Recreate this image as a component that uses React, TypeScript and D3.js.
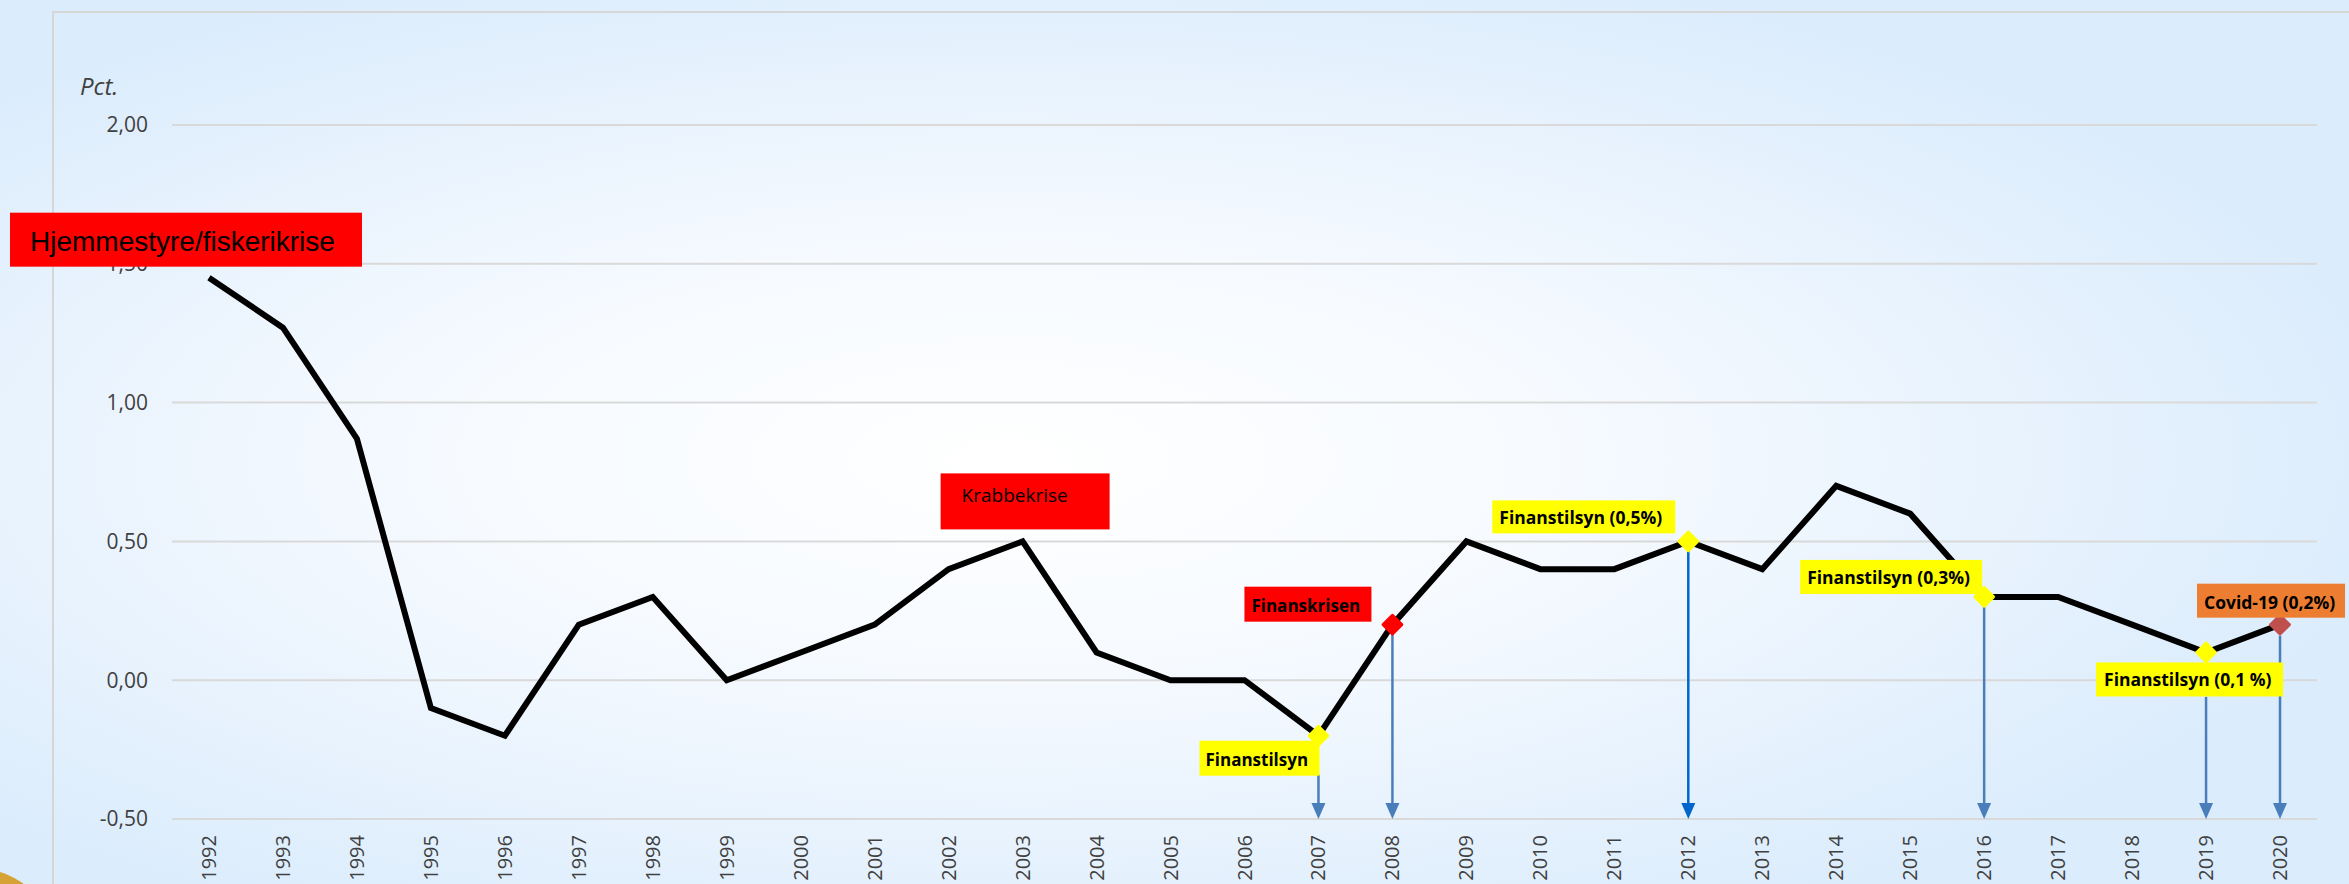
import React from 'react';
import * as d3 from 'd3';

// data
const years = ['1992', '1993', '1994', '1995', '1996', '1997', '1998', '1999', '2000', '2001',
  '2002', '2003', '2004', '2005', '2006', '2007', '2008', '2009', '2010', '2011',
  '2012', '2013', '2014', '2015', '2016', '2017', '2018', '2019', '2020'];
const values = [1.45, 1.27, 0.87, -0.1, -0.2, 0.2, 0.3, 0, 0.1, 0.2,
  0.4, 0.5, 0.1, 0, 0, -0.2, 0.2, 0.5, 0.4, 0.4,
  0.5, 0.4, 0.7, 0.6, 0.3, 0.3, 0.2, 0.1, 0.2];
const yTicks = [-0.5, 0, 0.5, 1, 1.5, 2];

const markerYears = ['2007', '2008', '2012', '2016', '2019', '2020'];

const labelTexts = ['Hjemmestyre/fiskerikrise', 'Krabbekrise', 'Finanskrisen', 'Finanstilsyn',
  'Finanstilsyn (0,5%)', 'Finanstilsyn (0,3%)', 'Finanstilsyn (0,1 %)', 'Covid-19 (0,2%)'];
const labelYears = ['1992', '2003', '2008', '2007', '2012', '2016', '2019', '2020'];

const arrowYears = ['2007', '2008', '2012', '2016', '2019', '2020'];
const arrowFrom = [-0.34, 0.2, 0.5, 0.3, -0.06, 0.16];
const arrowTo = -0.5;

// styling / layout
const W = 2349;
const H = 884;
const PLOT = { left: 172, right: 2317, top: 125, bottom: 819 };
const FONT = "'Open Sans', 'Noto Sans', sans-serif";
const TEXT_GREY = '#404040';

const markerFill: Record<string, string> = {
  '2007': '#ffff00', '2008': '#ff0000', '2012': '#ffff00',
  '2016': '#ffff00', '2019': '#ffff00', '2020': '#c0504d',
};

// box offsets relative to the anchored data point
const labelLayout = [
  { dx: -199, dy: -65, w: 352, h: 54, tx: 20, ty: 38, fill: '#ff0000', size: 28, weight: 400, font: "'Liberation Sans', Arial, sans-serif" },
  { dx: -82, dy: -68, w: 169, h: 56, tx: 21, ty: 29, fill: '#ff0000', size: 19, weight: 400, font: FONT },
  { dx: -148, dy: -38, w: 127, h: 35, tx: 7, ty: 25, fill: '#ff0000', size: 17, weight: 700, font: FONT },
  { dx: -119, dy: 5, w: 120, h: 35, tx: 6, ty: 25, fill: '#ffff00', size: 17, weight: 700, font: FONT },
  { dx: -196, dy: -41, w: 183, h: 33, tx: 7, ty: 24, fill: '#ffff00', size: 17.5, weight: 700, font: FONT },
  { dx: -184, dy: -37, w: 182, h: 34, tx: 7, ty: 24, fill: '#ffff00', size: 17.5, weight: 700, font: FONT },
  { dx: -110, dy: 10, w: 187, h: 34, tx: 8, ty: 24, fill: '#ffff00', size: 17.5, weight: 700, font: FONT },
  { dx: -83, dy: -41, w: 148, h: 34, tx: 7, ty: 25, fill: '#ed7d31', size: 17.5, weight: 700, font: FONT },
];

const arrowColor: Record<string, string> = { '2012': '#0066cc' };

const App: React.FC = () => {
  const x = d3.scalePoint<string>().domain(years).range([PLOT.left, PLOT.right]).padding(0.5);
  const y = d3.scaleLinear().domain([-0.5, 2]).range([PLOT.bottom, PLOT.top]);

  const locale = d3.formatLocale({ decimal: ',', thousands: '.', grouping: [3], currency: ['', ' kr'], minus: '-' });
  const fmt = locale.format('.2f');

  const points = years.map((yr, i) => ({ yr, v: values[i] }));
  const line = d3.line<{ yr: string; v: number }>()
    .x(d => x(d.yr)!)
    .y(d => y(d.v));

  const diamond = d3.symbol().type(d3.symbolSquare).size(175)();
  const valueOf = (yr: string) => values[years.indexOf(yr)];

  return (
    <svg width={W} height={H} style={{ position: 'absolute', left: 0, top: 0, display: 'block' }}>
      <defs>
        <radialGradient id="bg" cx="0.43" cy="0.52" r="0.6">
          <stop offset="0" stopColor="#ffffff" />
          <stop offset="0.4" stopColor="#f6faff" />
          <stop offset="1" stopColor="#dbecfc" />
        </radialGradient>
      </defs>
      <rect x={0} y={0} width={W} height={H} fill="url(#bg)" />
      <circle cx={-25} cy={950} r={82} fill="#d6a236" />
      <rect x={53} y={12} width={W} height={H} fill="none" stroke="#d6d6d6" strokeWidth={2} />

      {/* gridlines + y labels */}
      {yTicks.map(t => (
        <g key={t}>
          <line x1={PLOT.left} x2={PLOT.right} y1={y(t)} y2={y(t)} stroke="#d9d9d9" strokeWidth={2} />
          <text x={148} y={y(t)} dy="0.35em" textAnchor="end" fontFamily={FONT} fontSize={21} fill={TEXT_GREY}>
            {fmt(t)}
          </text>
        </g>
      ))}
      <text x={80} y={95} fontFamily={FONT} fontSize={24} fontStyle="italic" fill={TEXT_GREY}>Pct.</text>

      {/* x labels */}
      {years.map(yr => (
        <text key={yr} transform={`translate(${x(yr)},835) rotate(-90)`} dy="0.35em" textAnchor="end"
          fontFamily={FONT} fontSize={20} fill={TEXT_GREY}>{yr}</text>
      ))}

      <path d={line(points)!} fill="none" stroke="#000" strokeWidth={6} strokeLinejoin="miter" />

      {/* arrows */}
      {arrowYears.map((yr, i) => {
        const ax = x(yr)!;
        const y0 = y(arrowFrom[i]);
        const y1 = y(arrowTo);
        const c = arrowColor[yr] || '#4a7ebb';
        return (
          <g key={'a' + yr}>
            <line x1={ax} x2={ax} y1={y0} y2={y1 - 14} stroke={c} strokeWidth={2.5} />
            <path d={`M${ax - 7},${y1 - 16}L${ax + 7},${y1 - 16}L${ax},${y1}Z`} fill={c} />
          </g>
        );
      })}

      {/* markers */}
      {markerYears.map(yr => (
        <path key={'m' + yr} d={diamond!} transform={`translate(${x(yr)},${y(valueOf(yr))}) rotate(45)`}
          fill={markerFill[yr]} stroke={markerFill[yr]} strokeWidth={3} strokeLinejoin="round" />
      ))}

      {/* labels */}
      {labelTexts.map((txt, i) => {
        const L = labelLayout[i];
        const bx = x(labelYears[i])! + L.dx;
        const by = y(valueOf(labelYears[i])) + L.dy;
        return (
          <g key={'l' + i}>
            <rect x={bx} y={by} width={L.w} height={L.h} fill={L.fill} />
            <text x={bx + L.tx} y={by + L.ty} fontFamily={L.font} fontSize={L.size} fontWeight={L.weight} fill="#000">
              {txt}
            </text>
          </g>
        );
      })}
    </svg>
  );
};

export default App;
